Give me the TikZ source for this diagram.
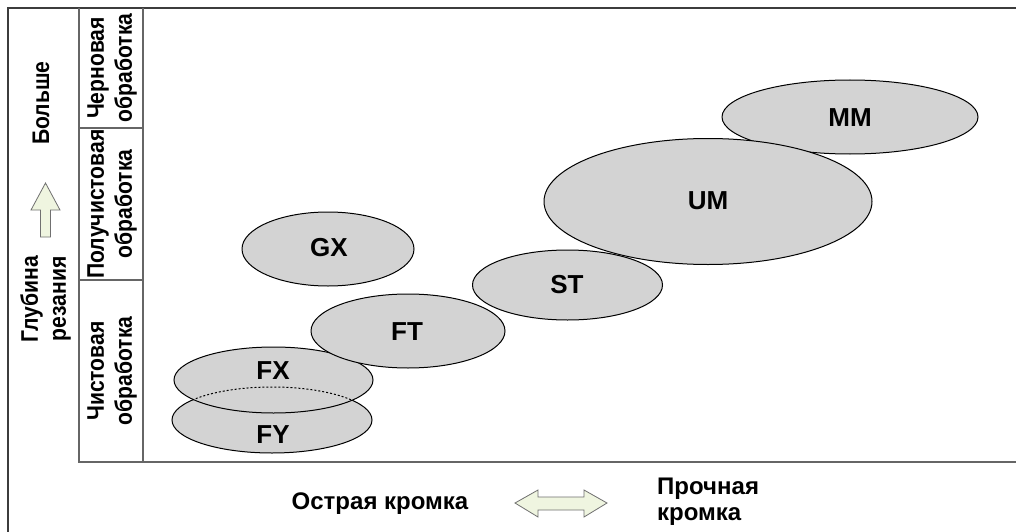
\documentclass[tikz,border=0pt]{standalone}
\usepackage{fontspec}
\setmainfont{Liberation Sans}
\newfontfamily\narrowbold[FakeStretch=0.88]{Liberation Sans Bold}
\usetikzlibrary{shapes.geometric}
\definecolor{ellfill}{HTML}{D3D3D3}
\definecolor{arrfill}{HTML}{EFF5E0}
\definecolor{arrline}{HTML}{707070}
\definecolor{frameline}{HTML}{3C3C3C}
\definecolor{bandline}{HTML}{666666}
\begin{document}
\begin{tikzpicture}[x=1pt,y=-1pt,
  ell/.style={ellipse, draw=black, line width=1pt, fill=ellfill, inner sep=0pt, outer sep=0pt},
  lab/.style={font=\fontsize{26}{30}\selectfont\bfseries, inner sep=0pt},
  vtext/.style={font=\narrowbold\fontsize{24}{28}\selectfont, rotate=90, align=center, inner sep=0pt},
  htext/.style={font=\fontsize{24}{26}\selectfont\bfseries, inner sep=0pt},
  frame/.style={draw=frameline, line width=1.5pt},
  bandl/.style={draw=bandline, line width=1.2pt},
  arrowshape/.style={draw=arrline, fill=arrfill, line width=0.8pt, line join=miter}
]
\useasboundingbox (0,0) rectangle (1016,532);
\fill[white] (0,0) rectangle (1016,532);

% outer frame
\draw[frame] (8,532) -- (8,8) -- (1016,8);
% band box and axis
\draw[bandl] (79,8) -- (79,462) -- (1016,462);
\draw[bandl] (143,8) -- (143,462);
\draw[bandl] (79,128) -- (143,128);
\draw[bandl] (79,280) -- (143,280);

% band texts
\node[vtext] (rough) at (112,68) {Черновая\\обработка};
\node[vtext] (semi) at (112,204) {Получистовая\\обработка};
\node[vtext] (fine) at (112,371) {Чистовая\\обработка};

% left axis texts
\node[vtext] (depth) at (45.5,299) {Глубина\\резания};
\node[vtext] (more) at (41,103) {Больше};
\draw[arrowshape] (45.5,183) -- (60,210) -- (50.5,210) -- (50.5,237) -- (40.5,237) -- (40.5,210) -- (31,210) -- cycle;

% bottom axis texts
\node[htext] (sharp) at (380,504) {Острая кромка};
\node[htext, align=left, anchor=west] (strong) at (657,502) {Прочная\\кромка};
\draw[arrowshape] (515,503) -- (538,490) -- (538,497) -- (584,497) -- (584,490) -- (607,503) -- (584,517) -- (584,510) -- (538,510) -- (538,517) -- cycle;

% ellipses
\node[ell, minimum width=200pt, minimum height=66pt] (fy) at (272,420) {};
\node[ell, minimum width=199pt, minimum height=66pt] (fx) at (273.5,380) {};
\begin{scope}
  \clip (273.5,380) ellipse (99.5 and 33);
  \draw[black, line width=1pt, dash pattern=on 2pt off 2pt] (272,420) ellipse (100 and 33);
\end{scope}
\node[ell, minimum width=194pt, minimum height=74pt] (ft) at (408,331) {};
\node[ell, minimum width=172pt, minimum height=74pt] (gx) at (328,249) {};
\node[ell, minimum width=190pt, minimum height=70pt] (st) at (567.5,285) {};
\node[ell, minimum width=256pt, minimum height=74pt] (mm) at (850,117) {};
\node[ell, minimum width=328pt, minimum height=126pt] (um) at (708,201.5) {};

% labels
\node[lab] (fyl) at (273,435) {FY};
\node[lab] (fxl) at (273,371) {FX};
\node[lab] (ftl) at (407,332) {FT};
\node[lab] (gxl) at (329,248) {GX};
\node[lab] (stl) at (567,285) {ST};
\node[lab] (uml) at (708,201) {UM};
\node[lab] (mml) at (850,118) {MM};
\end{tikzpicture}
\end{document}
